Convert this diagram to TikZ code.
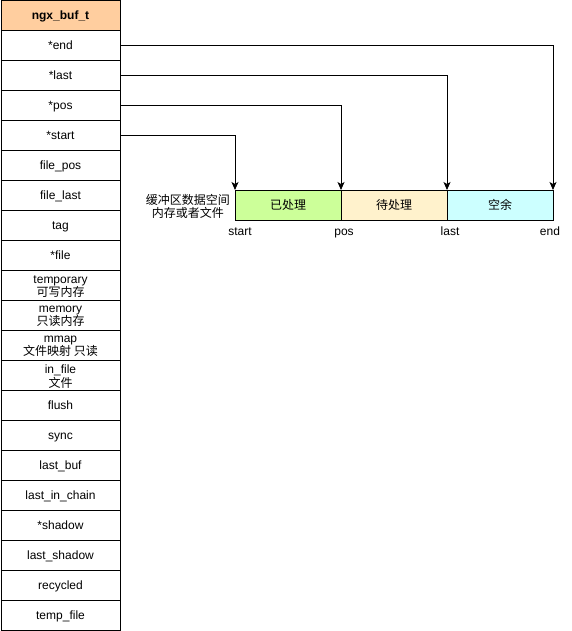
\documentclass[tikz,border=0pt]{standalone}
\usepackage{fontspec}
\setmainfont{Liberation Sans}
\newfontfamily\cjk{Noto Sans CJK SC}
\usetikzlibrary{arrows.meta}
\usetikzlibrary{positioning}
\definecolor{mhead}{HTML}{FFCE9F}
\definecolor{mdone}{HTML}{CCFF99}
\definecolor{mwait}{HTML}{FFF2CC}
\definecolor{mfree}{HTML}{CCFFFF}
\tikzset{
  field/.style={draw, line width=0.8pt, minimum width=119pt, minimum height=30pt,
    inner sep=0pt, outer sep=0pt, font=\fontsize{12}{14}\selectfont,
    text height=9pt, text depth=0.4pt},
  twotext/.style={inner sep=0pt, align=center, font=\fontsize{12}{13.5}\selectfont},
  cell/.style={draw, line width=0.8pt, minimum width=106pt, minimum height=30pt,
    inner sep=0pt, outer sep=0pt, font=\fontsize{12}{14}\selectfont},
  mark label/.style={font=\fontsize{12}{14}\selectfont, inner sep=0pt,
    text height=9pt, text depth=0.4pt},
  ptr/.style={line width=0.8pt, -{Stealth[length=8pt,width=7pt,inset=2pt]}}
}

\begin{document}
\begin{tikzpicture}[x=1pt, y=-1pt]
      \useasboundingbox (0, 0) rectangle (571, 631);

      % ngx_buf_t fields
      \node [field, fill=mhead] (head) at (60.5, 15) {\textbf{ngx\_buf\_t}};
      \node [field] (fend) at (60.5, 45) {*end};
      \node [field] (flast) at (60.5, 75) {*last};
      \node [field] (fpos) at (60.5, 105) {*pos};
      \node [field] (fstart) at (60.5, 135) {*start};
      \node [field] (ffilepos) at (60.5, 165) {file\_pos};
      \node [field] (ffilelast) at (60.5, 195) {file\_last};
      \node [field] (ftag) at (60.5, 225) {tag};
      \node [field] (ffile) at (60.5, 255) {*file};
      \node [field] (ftemp) at (60.5, 285) {};
      \node [field] (fmem) at (60.5, 315) {};
      \node [field] (fmmap) at (60.5, 345) {};
      \node [field] (finfile) at (60.5, 375) {};
      \node [twotext] (ttemp) at (60.5, 286.5) {temporary\\{\cjk 可写内存}};
      \node [twotext] (tmem) at (60.5, 316.5) {memory\\{\cjk 只读内存}};
      \node [twotext] (tmmap) at (60.5, 346.5) {mmap\\{\cjk 文件映射 只读}};
      \node [twotext] (tinfile) at (60.5, 376.5) {in\_file\\{\cjk 文件}};
      \node [field] (fflush) at (60.5, 405) {flush};
      \node [field] (fsync) at (60.5, 435) {sync};
      \node [field] (flastbuf) at (60.5, 465) {last\_buf};
      \node [field] (flastchain) at (60.5, 495) {last\_in\_chain};
      \node [field] (fshadow) at (60.5, 525) {*shadow};
      \node [field] (flastshadow) at (60.5, 555) {last\_shadow};
      \node [field] (frecycled) at (60.5, 585) {recycled};
      \node [field] (ftempfile) at (60.5, 615) {temp\_file};

      % buffer space
      \node [cell, fill=mdone] (done) at (288, 205) {\cjk 已处理};
      \node [cell, fill=mwait] (wait) at (394, 205) {\cjk 待处理};
      \node [cell, fill=mfree] (free) at (500, 205) {\cjk 空余};
      \node [twotext, anchor=east] (space) at (230, 206.5)
        {\cjk 缓冲区数据空间\\\cjk 内存或者文件};

      \node [mark label] (lstart) at (240, 231) {start};
      \node [mark label] (lpos) at (344, 231) {pos};
      \node [mark label] (llast) at (450, 231) {last};
      \node [mark label] (lend) at (550, 231) {end};

      \draw [ptr] (fend.east) -| (free.north east);
      \draw [ptr] (flast.east) -| (free.north west);
      \draw [ptr] (fpos.east) -| (wait.north west);
      \draw [ptr] (fstart.east) -| (done.north west);
    \end{tikzpicture}
\end{document}
